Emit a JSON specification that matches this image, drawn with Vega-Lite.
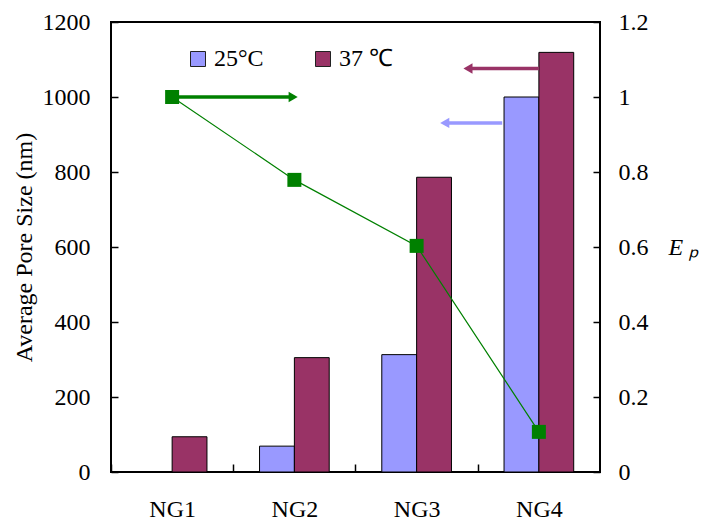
{
  "$schema": "https://vega.github.io/schema/vega-lite/v6.json",
  "width": 489,
  "height": 450,
  "autosize": {"type": "none"},
  "padding": {"left": 111, "top": 22, "right": 105, "bottom": 50},
  "background": "white",
  "config": {
    "view": {"stroke": "#000", "strokeWidth": 2},
    "font": "Liberation Serif",
    "axis": {
      "labelFont": "Liberation Serif",
      "titleFont": "Liberation Serif",
      "labelColor": "#000",
      "titleColor": "#000",
      "titleFontWeight": "normal",
      "grid": false,
      "domain": false,
      "tickColor": "#000",
      "tickWidth": 1.5
    }
  },
  "datasets": {
    "pore": [
      {"gel": "NG1", "temp": "37 ℃", "size": 94},
      {"gel": "NG2", "temp": "25°C", "size": 69},
      {"gel": "NG2", "temp": "37 ℃", "size": 305},
      {"gel": "NG3", "temp": "25°C", "size": 313},
      {"gel": "NG3", "temp": "37 ℃", "size": 786},
      {"gel": "NG4", "temp": "25°C", "size": 1000},
      {"gel": "NG4", "temp": "37 ℃", "size": 1119}
    ],
    "ep": [
      {"gel": "NG1", "ep": 1.0},
      {"gel": "NG2", "ep": 0.779},
      {"gel": "NG3", "ep": 0.603},
      {"gel": "NG4", "ep": 0.107}
    ],
    "arrows": [
      {"refers": "Ep", "level": 1000, "from": 0.5, "to": 1.49, "dir": "right"},
      {"refers": "25°C", "level": 931, "from": 3.2, "to": 2.73, "dir": "left"},
      {"refers": "37 ℃", "level": 1076, "from": 3.5, "to": 2.92, "dir": "left"}
    ]
  },
  "layer": [
    {
      "data": {"name": "pore"},
      "mark": {"type": "bar", "stroke": "#000", "strokeWidth": 1},
      "encoding": {
        "x": {
          "field": "gel",
          "type": "nominal",
          "scale": {"domain": ["NG1", "NG2", "NG3", "NG4"], "paddingInner": 0.43, "paddingOuter": 0.215},
          "axis": {
            "title": null,
            "labelAngle": 0,
            "labelFontSize": 24,
            "bandPosition": 0,
            "tickSize": -8,
            "tickOffset": -26.3,
            "labelOffset": 26.3,
            "labelPadding": 33,
            "zindex": 1
          }
        },
        "xOffset": {
          "field": "temp",
          "type": "nominal",
          "scale": {"domain": ["25°C", "37 ℃"], "paddingInner": 0, "paddingOuter": 0}
        },
        "y": {
          "field": "size",
          "type": "quantitative",
          "scale": {"domain": [0, 1200], "nice": false},
          "axis": {
            "title": "Average Pore Size (nm)",
            "values": [0, 200, 400, 600, 800, 1000, 1200],
            "format": "d",
            "tickSize": -7,
            "labelPadding": 28,
            "labelFontSize": 24,
            "titleFontSize": 24,
            "titleAngle": -90,
            "titleX": -87,
            "titleY": 225,
            "titleAlign": "center",
            "titleBaseline": "middle"
          }
        },
        "color": {
          "field": "temp",
          "type": "nominal",
          "scale": {"domain": ["25°C", "37 ℃"], "range": ["#9999FF", "#993366"]},
          "legend": {
            "title": null,
            "orient": "none",
            "legendX": 75,
            "legendY": 25,
            "direction": "horizontal",
            "symbolType": "square",
            "symbolSize": 225,
            "symbolStrokeColor": "#222",
            "symbolStrokeWidth": 1,
            "symbolOpacity": 1,
            "labelFont": "Liberation Serif",
            "labelFontSize": 24,
            "labelColor": "#000",
            "labelOffset": 4,
            "columnPadding": 47,
            "padding": 0
          }
        }
      }
    },
    {
      "data": {"name": "arrows"},
      "encoding": {
        "y": {"field": "level", "type": "quantitative", "scale": {"domain": [0, 1200], "nice": false}, "axis": null},
        "color": {
          "field": "refers",
          "type": "nominal",
          "scale": {"domain": ["Ep", "25°C", "37 ℃"], "range": ["#008000", "#9999FF", "#993366"]},
          "legend": null
        }
      },
      "layer": [
        {
          "mark": {"type": "rule", "strokeWidth": 3.5},
          "encoding": {
            "x": {"field": "from", "type": "quantitative", "scale": {"domain": [0, 4], "nice": false, "zero": false}, "axis": null},
            "x2": {"field": "to"}
          }
        },
        {
          "mark": {"type": "point", "filled": true, "opacity": 1, "size": 110},
          "encoding": {
            "x": {"field": "to", "type": "quantitative", "scale": {"domain": [0, 4], "nice": false, "zero": false}, "axis": null},
            "shape": {
              "field": "dir",
              "type": "nominal",
              "scale": {"domain": ["left", "right"], "range": ["triangle-left", "triangle-right"]},
              "legend": null
            }
          }
        }
      ]
    },
    {
      "data": {"name": "ep"},
      "encoding": {
        "x": {
          "field": "gel",
          "type": "nominal",
          "scale": {"domain": ["NG1", "NG2", "NG3", "NG4"], "paddingInner": 0.43, "paddingOuter": 0.215},
          "axis": null
        },
        "y": {
          "field": "ep",
          "type": "quantitative",
          "scale": {"domain": [0, 1.2], "nice": false},
          "axis": {
            "orient": "right",
            "values": [0, 0.2, 0.4, 0.6, 0.8, 1, 1.2],
            "format": "~g",
            "tickSize": -7,
            "labelPadding": 25,
            "labelFontSize": 24,
            "title": "E ₚ",
            "titleFontSize": 24,
            "titleFontStyle": "italic",
            "titleAngle": 0,
            "titleAlign": "left",
            "titleBaseline": "middle",
            "titleX": 68,
            "titleY": 225
          }
        }
      },
      "layer": [
        {"mark": {"type": "line", "color": "#008000", "strokeWidth": 1.2}},
        {"mark": {"type": "square", "color": "#008000", "size": 196, "opacity": 1}}
      ]
    }
  ],
  "resolve": {"scale": {"x": "independent", "y": "independent", "color": "independent", "shape": "independent"}}
}
